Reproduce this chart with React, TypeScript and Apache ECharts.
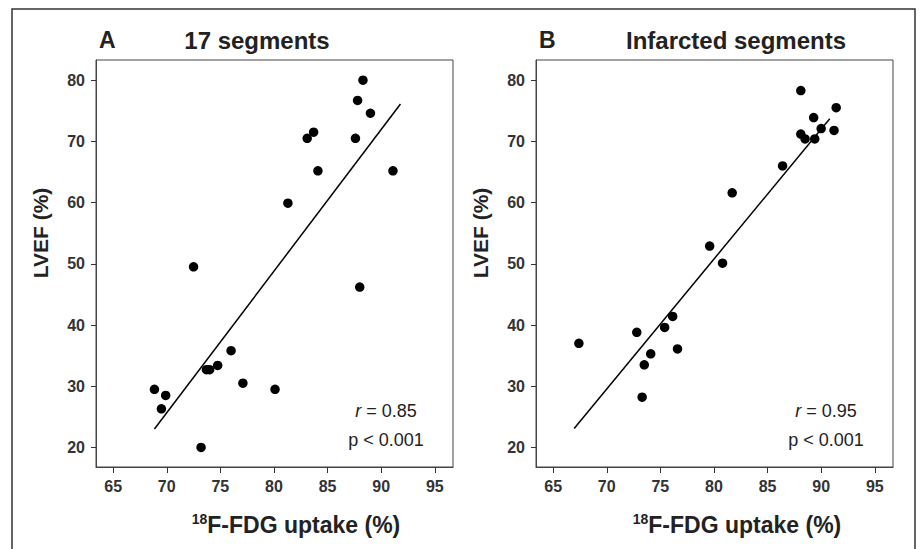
import React, { useEffect, useRef } from "react";
import * as echarts from "echarts";

// Panel A: 17 segments
const fdgA = [68.85, 69.5, 69.9, 72.5, 73.2, 73.7, 74.0, 74.75, 76.0, 77.1, 80.1, 81.3, 83.1, 83.7, 84.1, 87.6, 87.8, 88.0, 88.3, 89.0, 91.1];
const lvefA = [29.5, 26.3, 28.5, 49.5, 20.0, 32.7, 32.7, 33.4, 35.8, 30.5, 29.5, 59.9, 70.5, 71.5, 65.2, 70.5, 76.7, 46.2, 80.0, 74.6, 65.2];
const fitA = [[68.85, 23.0], [91.8, 76.1]];

// Panel B: infarcted segments
const fdgB = [67.4, 72.8, 73.3, 73.5, 74.1, 75.4, 76.15, 76.6, 79.6, 80.8, 81.7, 86.4, 88.1, 88.1, 88.5, 89.3, 89.4, 90.0, 91.2, 91.4];
const lvefB = [37.0, 38.8, 28.2, 33.5, 35.3, 39.6, 41.4, 36.1, 52.9, 50.1, 61.6, 66.0, 78.3, 71.2, 70.4, 73.9, 70.4, 72.1, 71.8, 75.5];
const fitB = [[66.96, 23.1], [90.8, 73.7]];

const xTicks = [65, 70, 75, 80, 85, 90, 95];
const yTicks = [20, 30, 40, 50, 60, 70, 80];
const titles = ["17 segments", "Infarcted segments"];
const letters = ["A", "B"];
const stats = [["0.85", "< 0.001"], ["0.95", "< 0.001"]];

const FONT = "Liberation Sans, Arial, sans-serif";

export default function App() {
  const ref = useRef<HTMLDivElement>(null);
  useEffect(() => {
    if (!ref.current) return;
    const chart = echarts.init(ref.current, null, { renderer: "svg" });
    const gridLefts = [96, 536];
    const mkX = (i: number) => ({
      type: "value",
      gridIndex: i,
      min: 63.4,
      max: 96.7,
      splitNumber: 7,
      splitLine: { show: false },
      axisLine: { show: true, onZero: false, lineStyle: { color: "#444", width: 1 } },
      axisTick: { show: true, length: 6, customValues: xTicks, lineStyle: { color: "#333", width: 1 } },
      axisLabel: {
        customValues: xTicks,
        margin: 11,
        fontSize: 16,
        fontWeight: "bold",
        fontFamily: FONT,
        color: "#333",
        showMinLabel: true,
        showMaxLabel: true,
      },
    });
    const mkY = (i: number) => ({
      type: "value",
      gridIndex: i,
      min: 16.8,
      max: 83.3,
      splitNumber: 7,
      splitLine: { show: false },
      axisLine: { show: true, onZero: false, lineStyle: { color: "#444", width: 1 } },
      axisTick: { show: true, length: 5, customValues: yTicks, lineStyle: { color: "#333", width: 1 } },
      axisLabel: {
        customValues: yTicks,
        margin: 11,
        fontSize: 16,
        fontWeight: "bold",
        fontFamily: FONT,
        color: "#333",
      },
    });
    const scatter = (i: number, xs: number[], ys: number[]) => ({
      type: "scatter",
      xAxisIndex: i,
      yAxisIndex: i,
      symbol: "circle",
      symbolSize: 9.5,
      itemStyle: { color: "#000", opacity: 1 },
      data: xs.map((x, k) => [x, ys[k]]),
      z: 3,
    });
    const fit = (i: number, d: number[][]) => ({
      type: "line",
      xAxisIndex: i,
      yAxisIndex: i,
      showSymbol: false,
      symbol: "none",
      lineStyle: { color: "#000", width: 1.5 },
      data: d,
      z: 2,
    });

    const graphics: any[] = [
      {
        type: "rect",
        shape: { x: 12, y: 9, width: 903, height: 560 },
        style: { fill: "none", stroke: "#333", lineWidth: 1.5 },
        silent: true,
      },
    ];
    [0, 1].forEach((i) => {
      const gl = gridLefts[i];
      graphics.push({
        type: "text",
        x: gl + 3,
        y: 40,
        style: {
          text: letters[i],
          fontSize: 23,
          fontWeight: "bold",
          fontFamily: FONT,
          fill: "#222",
          textAlign: "left",
          textVerticalAlign: "middle",
          align: "left",
          verticalAlign: "middle",
        },
      });
      graphics.push({
        type: "text",
        x: i === 0 ? 257 : 736,
        y: 40,
        style: {
          text: titles[i],
          fontSize: 24,
          fontWeight: "bold",
          fontFamily: FONT,
          fill: "#222",
          textAlign: "center",
          textVerticalAlign: "middle",
          align: "center",
          verticalAlign: "middle",
        },
      });
      graphics.push({
        type: "text",
        x: gl - 56,
        y: 233,
        rotation: Math.PI / 2,
        style: {
          text: "LVEF (%)",
          fontSize: 21,
          fontWeight: "bold",
          fontFamily: FONT,
          fill: "#222",
          textAlign: "center",
          textVerticalAlign: "middle",
          align: "center",
          verticalAlign: "middle",
        },
      });
      graphics.push({
        type: "text",
        x: i === 0 ? 296 : 737,
        y: 525,
        style: {
          text: "{s|18}{m|F-FDG uptake (%)}",
          fill: "#222",
          textAlign: "center",
          textVerticalAlign: "middle",
          align: "center",
          verticalAlign: "middle",
          rich: {
            s: { fontSize: 14, fontWeight: "bold", fontFamily: FONT, fill: "#222", verticalAlign: "top", lineHeight: 15 },
            m: { fontSize: 23, fontWeight: "bold", fontFamily: FONT, fill: "#222", lineHeight: 26 },
          },
        },
      });
      graphics.push({
        type: "text",
        x: gl + 290,
        y: 411,
        style: {
          text: "{i|r} = " + stats[i][0],
          fontSize: 18,
          fontFamily: FONT,
          fill: "#222",
          textAlign: "center",
          textVerticalAlign: "middle",
          align: "center",
          verticalAlign: "middle",
          rich: {
            i: { fontSize: 18, fontStyle: "italic", fontFamily: FONT, fill: "#222" },
          },
        },
      });
      graphics.push({
        type: "text",
        x: gl + 290,
        y: 440,
        style: {
          text: "p " + stats[i][1],
          fontSize: 18,
          fontFamily: FONT,
          fill: "#222",
          textAlign: "center",
          textVerticalAlign: "middle",
          align: "center",
          verticalAlign: "middle",
        },
      });
    });

    chart.setOption({
      animation: false,
      backgroundColor: "#fff",
      grid: gridLefts.map((l) => ({
        left: l,
        top: 60,
        width: 357,
        height: 407,
        show: true,
        borderColor: "#444",
        borderWidth: 1,
        backgroundColor: "transparent",
        containLabel: false,
      })),
      xAxis: [mkX(0), mkX(1)],
      yAxis: [mkY(0), mkY(1)],
      series: [scatter(0, fdgA, lvefA), fit(0, fitA), scatter(1, fdgB, lvefB), fit(1, fitB)],
      graphic: graphics,
    });
    return () => chart.dispose();
  }, []);
  return (
    <div
      ref={ref}
      style={{ position: "absolute", left: 0, top: 0, width: 920, height: 549 }}
    />
  );
}
